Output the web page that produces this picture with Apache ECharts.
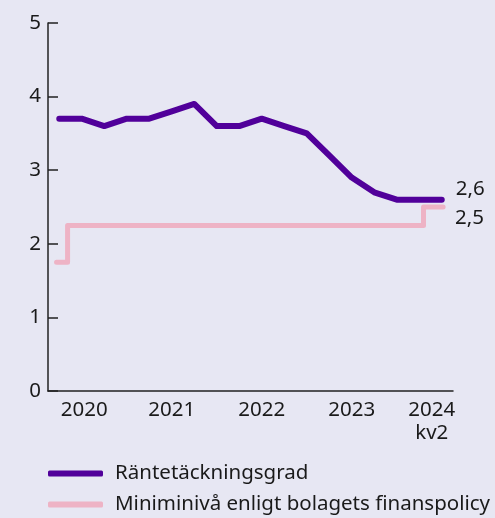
<!DOCTYPE html>
<html>
<head>
<meta charset="utf-8">
<script src="https://cdn.jsdelivr.net/npm/echarts@6/dist/echarts.min.js"></script>
<style>
  html, body { margin: 0; padding: 0; background: #e7e7f3; }
  #main { width: 495px; height: 518px; }
</style>
</head>
<body>
<div id="main"></div>
<script>
// kvartal 2020 kv1 - 2024 kv2
var quarters = [
    '2020 kv1', '2020 kv2', '2020 kv3', '2020 kv4',
    '2021 kv1', '2021 kv2', '2021 kv3', '2021 kv4',
    '2022 kv1', '2022 kv2', '2022 kv3', '2022 kv4',
    '2023 kv1', '2023 kv2', '2023 kv3', '2023 kv4',
    '2024 kv1', '2024 kv2'
];
var rantetackning = [3.7, 3.7, 3.6, 3.7, 3.7, 3.8, 3.9, 3.6, 3.6, 3.7, 3.6, 3.5, 3.2, 2.9, 2.7, 2.6, 2.6, 2.6];

// miniminivå, trappsteg (x i kvartalsindex)
var policyX = [-0.12, 0.37, 16.19, 17.06];
var policyY = [1.75, 2.25, 2.5, 2.5];

var yTicks = [0, 1, 2, 3, 4, 5];

var purple = '#51009a';
var pink = '#eeb3c5';
var textColor = '#1a1a1a';
var font = 'Noto Sans';
var fs = 20.5;

var myChart = echarts.init(document.getElementById('main'));

var policyData = [];
for (var i = 0; i < policyX.length; i++) {
    policyData.push([policyX[i], policyY[i]]);
}

function komma(v) {
    return String(v).replace('.', ',');
}

myChart.setOption({
    backgroundColor: '#e7e7f3',
    animation: false,
    grid: { left: 48, right: 42, top: 23, bottom: 127, containLabel: false, outerBoundsMode: 'none' },
    legend: {
        orient: 'vertical',
        left: 48,
        top: 463,
        padding: 0,
        itemWidth: 55,
        itemHeight: 6,
        itemGap: 10,
        icon: 'roundRect',
        textStyle: { color: textColor, fontSize: fs, fontFamily: font, padding: [0, 0, 0, 7] },
        data: ['Räntetäckningsgrad', 'Miniminivå enligt bolagets finanspolicy']
    },
    xAxis: [{
        type: 'category',
        data: quarters,
        boundaryGap: true,
        axisLine: { lineStyle: { color: '#222', width: 1.5 } },
        axisTick: { show: false },
        axisLabel: {
            interval: function (index) { return index % 4 === 1; },
            margin: 8,
            color: textColor,
            fontSize: fs,
            fontFamily: font,
            lineHeight: 23,
            formatter: function (value, index) {
                var year = value.split(' ')[0];
                if (index === quarters.length - 1) {
                    return '{last|' + year + '}\n{last|kv2}';
                }
                if (index === 1) {
                    return '{first|' + year + '}';
                }
                return year;
            },
            rich: {
                last: { fontSize: fs, fontFamily: font, color: textColor, lineHeight: 23, padding: [0, 20, 0, 0] },
                first: { fontSize: fs, fontFamily: font, color: textColor, lineHeight: 23, padding: [0, 0, 0, 5] }
            }
        },
        splitLine: { show: false }
    }, {
        type: 'value',
        min: -0.5,
        max: quarters.length - 0.5,
        show: false,
        splitLine: { show: false }
    }],
    yAxis: {
        type: 'value',
        min: yTicks[0],
        max: yTicks[yTicks.length - 1],
        interval: 1,
        axisLine: { show: true, onZero: false, lineStyle: { color: '#222', width: 1.5 } },
        axisTick: { show: true, inside: true, length: 10, lineStyle: { color: '#222', width: 1.5 } },
        axisLabel: { color: textColor, fontSize: fs, fontFamily: font, margin: 7 },
        splitLine: { show: false }
    },
    series: [{
        name: 'Miniminivå enligt bolagets finanspolicy',
        type: 'line',
        xAxisIndex: 1,
        step: 'end',
        data: policyData,
        symbol: 'none',
        itemStyle: { color: pink },
        lineStyle: { color: pink, width: 5, cap: 'round', join: 'round' },
        endLabel: {
            show: true,
            distance: 12,
            offset: [0, 11],
            color: textColor,
            fontSize: fs,
            fontFamily: font,
            formatter: function (p) { return komma(p.value[1]); }
        }
    }, {
        name: 'Räntetäckningsgrad',
        type: 'line',
        data: rantetackning,
        symbol: 'none',
        itemStyle: { color: purple },
        lineStyle: { color: purple, width: 6, cap: 'round', join: 'round' },
        endLabel: {
            show: true,
            distance: 14,
            offset: [0, -10],
            color: textColor,
            fontSize: fs,
            fontFamily: font,
            formatter: function (p) { return komma(p.value); }
        }
    }]
});
</script>
</body>
</html>
